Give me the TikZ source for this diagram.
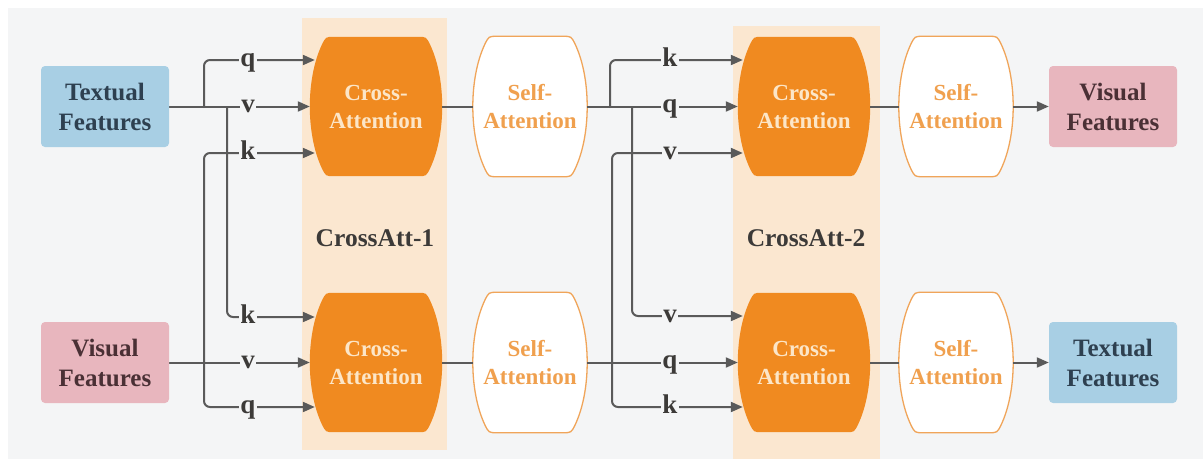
\documentclass[tikz,border=0pt]{standalone}
\usepackage{fontspec}
\setmainfont{Liberation Serif}
\usetikzlibrary{arrows.meta}

\definecolor{canvas}{HTML}{F4F5F6}
\definecolor{stage}{HTML}{FBE7D0}
\definecolor{caorange}{HTML}{F08A20}
\definecolor{catext}{HTML}{FCE6C8}
\definecolor{saline}{HTML}{F0A55A}
\definecolor{satext}{HTML}{F0A04E}
\definecolor{tfblue}{HTML}{A8CFE4}
\definecolor{tftext}{HTML}{2E4050}
\definecolor{vfpink}{HTML}{E8B6BE}
\definecolor{vftext}{HTML}{4A3035}
\definecolor{wirecol}{HTML}{5A5A5A}
\definecolor{lbltext}{HTML}{3C3A38}

\pgfdeclarelayer{back}
\pgfdeclarelayer{shapes}
\pgfdeclarelayer{wires}
\pgfsetlayers{back,shapes,wires,main}

\tikzset{
  feat/.style={rectangle, rounded corners=4pt, minimum width=128pt, minimum height=81pt,
    inner sep=0pt, align=center, font=\fontsize{25}{30}\selectfont\bfseries},
  tfbox/.style={feat, fill=tfblue, text=tftext},
  vfbox/.style={feat, fill=vfpink, text=vftext},
  barrel/.style={rectangle, inner sep=0pt, align=center,
    font=\fontsize{23}{28}\selectfont\bfseries},
  crossatt/.style={barrel, minimum width=132pt, minimum height=139pt, text=catext},
  selfatt/.style={barrel, minimum width=114pt, minimum height=140pt, text=satext},
  crossfill/.style={fill=caorange},
  selffill/.style={fill=white, draw=saline, line width=1.3pt},
  lbl/.style={fill=canvas, inner sep=1.5pt, anchor=base, yshift=-6.2pt,
    text=lbltext, font=\fontsize{27}{27}\selectfont\bfseries},
  stagelbl/.style={text=lbltext, font=\fontsize{25.5}{26}\selectfont\bfseries},
  wire/.style={draw=wirecol, line width=2pt, rounded corners=6pt},
  arr/.style={wire, -{Triangle[length=12pt,width=10pt]}},
  knot/.style={fill=wirecol},
}

% barrel outline around a named node: flat top and bottom, bulging sides,
% rounded where the sides meet the flat edges
\newcommand\barrelbody[2]{%
  \path[#2]
    ([xshift=24pt]#1.north west) -- ([xshift=-24pt]#1.north east)
    .. controls ([xshift=-16pt]#1.north east) .. ([xshift=-12pt,yshift=-8pt]#1.north east)
    .. controls ([xshift=4pt,yshift=-42pt]#1.north east)
            and ([xshift=4pt,yshift=42pt]#1.south east)
    .. ([xshift=-12pt,yshift=8pt]#1.south east)
    .. controls ([xshift=-16pt]#1.south east) .. ([xshift=-24pt]#1.south east)
    -- ([xshift=24pt]#1.south west)
    .. controls ([xshift=16pt]#1.south west) .. ([xshift=12pt,yshift=8pt]#1.south west)
    .. controls ([xshift=-4pt,yshift=42pt]#1.south west)
            and ([xshift=-4pt,yshift=-42pt]#1.north west)
    .. ([xshift=12pt,yshift=-8pt]#1.north west)
    .. controls ([xshift=16pt]#1.north west) .. ([xshift=24pt]#1.north west)
    -- cycle;}

\begin{document}
\begin{tikzpicture}[x=1pt,y=-1pt]
\useasboundingbox (0,0) rectangle (1203,463);

% canvas and the two stage panels
\begin{pgfonlayer}{back}
  \fill[white] (0,0) rectangle (1203,463);
  \fill[canvas] (8,8) rectangle (1203,459);
  \fill[stage] (302,18) rectangle (447,450);
  \fill[stage] (733,26) rectangle (880,459);
\end{pgfonlayer}

% feature boxes
\node[tfbox] (TFL) at (105,106.5) {Textual\\Features};
\node[vfbox] (VFL) at (105,362.5) {Visual\\Features};
\node[vfbox] (VFR) at (1113,106.5) {Visual\\Features};
\node[tfbox] (TFR) at (1113,362.5) {Textual\\Features};

% attention blocks
\node[crossatt] (CA1t) at (376,106.5) {Cross-\\Attention};
\node[crossatt] (CA1b) at (376,362.5) {Cross-\\Attention};
\node[selfatt]  (SA1t) at (530,106.5) {Self-\\Attention};
\node[selfatt]  (SA1b) at (530,362.5) {Self-\\Attention};
\node[crossatt] (CA2t) at (804,106.5) {Cross-\\Attention};
\node[crossatt] (CA2b) at (804,362.5) {Cross-\\Attention};
\node[selfatt]  (SA2t) at (956,106.5) {Self-\\Attention};
\node[selfatt]  (SA2b) at (956,362.5) {Self-\\Attention};

\begin{pgfonlayer}{shapes}
  \barrelbody{CA1t}{crossfill}
  \barrelbody{CA1b}{crossfill}
  \barrelbody{CA2t}{crossfill}
  \barrelbody{CA2b}{crossfill}
  \barrelbody{SA1t}{selffill}
  \barrelbody{SA1b}{selffill}
  \barrelbody{SA2t}{selffill}
  \barrelbody{SA2b}{selffill}
\end{pgfonlayer}

\node[stagelbl] (st1) at (375,238) {CrossAtt-1};
\node[stagelbl] (st2) at (806,238) {CrossAtt-2};

% label positions on the input wires
\coordinate (a1q) at (248,60);
\coordinate (a1v) at (248,106.5);
\coordinate (a1k) at (248,153);
\coordinate (b1k) at (248,317);
\coordinate (b1v) at (248,362.5);
\coordinate (b1q) at (248,407);
\coordinate (a2k) at (670,60);
\coordinate (a2q) at (670,106.5);
\coordinate (a2v) at (670,153);
\coordinate (b2v) at (670,316);
\coordinate (b2q) at (670,362.5);
\coordinate (b2k) at (670,407);

% branch points
\coordinate (s1) at (204,106.5);
\coordinate (s2) at (227,106.5);
\coordinate (s3) at (204,362.5);
\coordinate (s4) at (610,106.5);
\coordinate (s5) at (632,106.5);
\coordinate (s6) at (612,362.5);

\begin{pgfonlayer}{wires}
  % stage 1 inputs
  \draw[arr] (TFL.east) -- (a1v) -- (CA1t.west);
  \draw[arr] (s1) |- (a1q) -- ([xshift=5pt]CA1t.west |- a1q);
  \draw[arr] (s2) |- (b1k) -- ([xshift=5pt]CA1b.west |- b1k);
  \draw[arr] (VFL.east) -- (b1v) -- (CA1b.west);
  \draw[arr] (s3) |- (a1k) -- ([xshift=5pt]CA1t.west |- a1k);
  \draw[arr] (s3) |- (b1q) -- ([xshift=5pt]CA1b.west |- b1q);
  \fill[knot] (s1) circle (1.6pt) (s3) circle (1.6pt);

  % stage 1 to self-attention
  \draw[wire] (CA1t.east) -- (SA1t.west);
  \draw[wire] (CA1b.east) -- (SA1b.west);

  % stage 2 inputs
  \draw[arr] (SA1t.east) -- (a2q) -- (CA2t.west);
  \draw[arr] (s4) |- (a2k) -- ([xshift=5pt]CA2t.west |- a2k);
  \draw[arr] (s5) |- (b2v) -- ([xshift=5pt]CA2b.west |- b2v);
  \draw[arr] (SA1b.east) -- (b2q) -- (CA2b.west);
  \draw[arr] (s6) |- (a2v) -- ([xshift=5pt]CA2t.west |- a2v);
  \draw[arr] (s6) |- (b2k) -- ([xshift=5pt]CA2b.west |- b2k);
  \fill[knot] (s4) circle (1.6pt) (s6) circle (1.6pt);

  % outputs
  \draw[wire] (CA2t.east) -- (SA2t.west);
  \draw[wire] (CA2b.east) -- (SA2b.west);
  \draw[arr] (SA2t.east) -- (VFR.west);
  \draw[arr] (SA2b.east) -- (TFR.west);
\end{pgfonlayer}

% q / k / v labels
\node[lbl] (la1q) at (a1q) {q};
\node[lbl] (la1v) at (a1v) {v};
\node[lbl] (la1k) at (a1k) {k};
\node[lbl] (lb1k) at (b1k) {k};
\node[lbl] (lb1v) at (b1v) {v};
\node[lbl] (lb1q) at (b1q) {q};
\node[lbl] (la2k) at (a2k) {k};
\node[lbl] (la2q) at (a2q) {q};
\node[lbl] (la2v) at (a2v) {v};
\node[lbl] (lb2v) at (b2v) {v};
\node[lbl] (lb2q) at (b2q) {q};
\node[lbl] (lb2k) at (b2k) {k};
\end{tikzpicture}
\end{document}
